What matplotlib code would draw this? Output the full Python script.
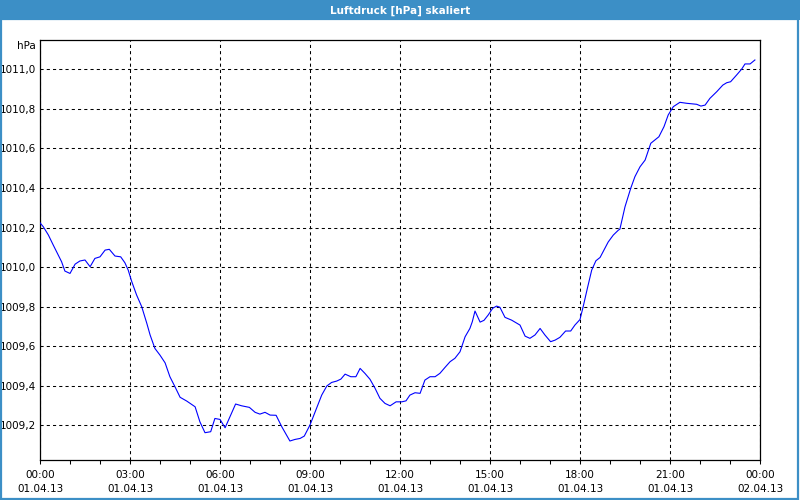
import matplotlib
matplotlib.use('Agg')
import matplotlib.pyplot as plt
from matplotlib.patches import Rectangle
from matplotlib.ticker import MultipleLocator

plt.rcParams['font.family'] = ['DejaVu Sans']

# Stunden ab 01.04.13 00:00
stunden = [0.00, 0.11, 0.28, 0.44, 0.61, 0.72, 0.83, 1.00, 1.17, 1.33,
           1.50, 1.67, 1.83, 2.00, 2.17, 2.31, 2.50, 2.69, 2.83, 2.94,
           3.06, 3.22, 3.39, 3.56, 3.67, 3.83, 4.00, 4.17, 4.33, 4.50,
           4.67, 4.89, 5.17, 5.33, 5.50, 5.69, 5.83, 6.00, 6.17, 6.33,
           6.52, 6.72, 6.98, 7.17, 7.33, 7.50, 7.67, 7.87, 8.06, 8.33,
           8.50, 8.67, 8.81, 9.00, 9.22, 9.39, 9.56, 9.72, 9.89, 10.03,
           10.17, 10.36, 10.53, 10.67, 10.83, 11.00, 11.17, 11.33, 11.50, 11.67,
           11.87, 12.06, 12.20, 12.33, 12.50, 12.67, 12.83, 13.00, 13.17, 13.33,
           13.50, 13.67, 13.83, 14.00, 14.17, 14.33, 14.41, 14.50, 14.67, 14.80,
           14.94, 15.09, 15.22, 15.33, 15.50, 15.72, 16.00, 16.17, 16.33, 16.50,
           16.67, 16.83, 17.02, 17.17, 17.33, 17.52, 17.69, 17.83, 18.00, 18.11,
           18.24, 18.39, 18.53, 18.67, 18.80, 18.94, 19.11, 19.28, 19.33, 19.50,
           19.69, 19.83, 20.00, 20.17, 20.36, 20.63, 20.80, 20.94, 21.11, 21.33,
           21.56, 21.89, 22.03, 22.17, 22.33, 22.56, 22.76, 22.89, 23.02, 23.22,
           23.39, 23.50, 23.67, 23.83]

luftdruck = [1010.224, 1010.204, 1010.162, 1010.112, 1010.061, 1010.027, 1009.980, 1009.968, 1010.015, 1010.031,
             1010.036, 1010.002, 1010.044, 1010.052, 1010.086, 1010.090, 1010.056, 1010.052, 1010.022, 1009.985,
             1009.926, 1009.859, 1009.800, 1009.716, 1009.657, 1009.589, 1009.555, 1009.516, 1009.446, 1009.395,
             1009.342, 1009.323, 1009.294, 1009.218, 1009.163, 1009.168, 1009.235, 1009.230, 1009.188, 1009.243,
             1009.308, 1009.299, 1009.291, 1009.266, 1009.257, 1009.266, 1009.252, 1009.251, 1009.193, 1009.121,
             1009.129, 1009.134, 1009.146, 1009.202, 1009.287, 1009.353, 1009.399, 1009.417, 1009.424, 1009.434,
             1009.459, 1009.446, 1009.446, 1009.488, 1009.463, 1009.433, 1009.387, 1009.337, 1009.311, 1009.299,
             1009.319, 1009.319, 1009.324, 1009.353, 1009.365, 1009.362, 1009.429, 1009.446, 1009.446, 1009.463,
             1009.493, 1009.522, 1009.539, 1009.572, 1009.648, 1009.690, 1009.724, 1009.778, 1009.722, 1009.731,
             1009.758, 1009.792, 1009.803, 1009.797, 1009.746, 1009.732, 1009.707, 1009.651, 1009.640, 1009.657,
             1009.690, 1009.657, 1009.623, 1009.631, 1009.645, 1009.677, 1009.677, 1009.707, 1009.735, 1009.803,
             1009.889, 1009.985, 1010.032, 1010.049, 1010.086, 1010.127, 1010.162, 1010.187, 1010.192, 1010.305,
             1010.398, 1010.457, 1010.507, 1010.541, 1010.626, 1010.659, 1010.710, 1010.769, 1010.811, 1010.833,
             1010.828, 1010.823, 1010.814, 1010.819, 1010.853, 1010.887, 1010.920, 1010.932, 1010.937, 1010.971,
             1011.001, 1011.027, 1011.027, 1011.047]

x_ticks = [0, 3, 6, 9, 12, 15, 18, 21, 24]
x_labels = ['00:00\n01.04.13', '03:00\n01.04.13', '06:00\n01.04.13', '09:00\n01.04.13',
            '12:00\n01.04.13', '15:00\n01.04.13', '18:00\n01.04.13', '21:00\n01.04.13',
            '00:00\n02.04.13']
y_ticks = [1009.2, 1009.4, 1009.6, 1009.8, 1010.0, 1010.2, 1010.4, 1010.6, 1010.8, 1011.0]
y_labels = ['1009,2', '1009,4', '1009,6', '1009,8', '1010,0', '1010,2', '1010,4', '1010,6', '1010,8', '1011,0']

fig = plt.figure(figsize=(8, 5), dpi=100)
fig.patch.set_facecolor('white')

# Titelleiste und Rahmen
fig.patches.append(Rectangle((0, 0.96), 1, 0.04, transform=fig.transFigure,
                             facecolor='#3c8fc6', edgecolor='none', zorder=0))
fig.patches.append(Rectangle((0.001, 0.002), 0.997, 0.96, transform=fig.transFigure,
                             facecolor='none', edgecolor='#3c8fc6', linewidth=1.6, zorder=0))
fig.text(0.5, 0.979, 'Luftdruck [hPa] skaliert', color='white', fontsize=7.5,
         fontweight='bold', ha='center', va='center')

ax = fig.add_axes([0.05, 0.08, 0.9, 0.84])
ax.plot(stunden, luftdruck, color='#0000ff', linewidth=0.8, zorder=3)

ax.set_xlim(0, 24)
ax.set_ylim(1009.025, 1011.148)

ax.set_xticks(x_ticks)
ax.set_xticklabels(x_labels, fontsize=7.5, linespacing=1.5)
ax.xaxis.set_minor_locator(MultipleLocator(1))
ax.set_yticks(y_ticks)
ax.set_yticklabels(y_labels, fontsize=7.5)

ax.tick_params(axis='x', which='both', direction='out', length=3, width=0.75, pad=4.5, colors='black')
ax.tick_params(axis='y', which='both', length=0, pad=3, colors='black')

for s in ax.spines.values():
    s.set_linewidth(0.9)
    s.set_color('black')

ax.grid(True, which='major', color='black', linestyle=(0, (3, 3)), linewidth=0.75)

fig.text(0.045, 0.908, 'hPa', fontsize=7.5, ha='right', va='center')

fig.savefig('out.png', dpi=100)
